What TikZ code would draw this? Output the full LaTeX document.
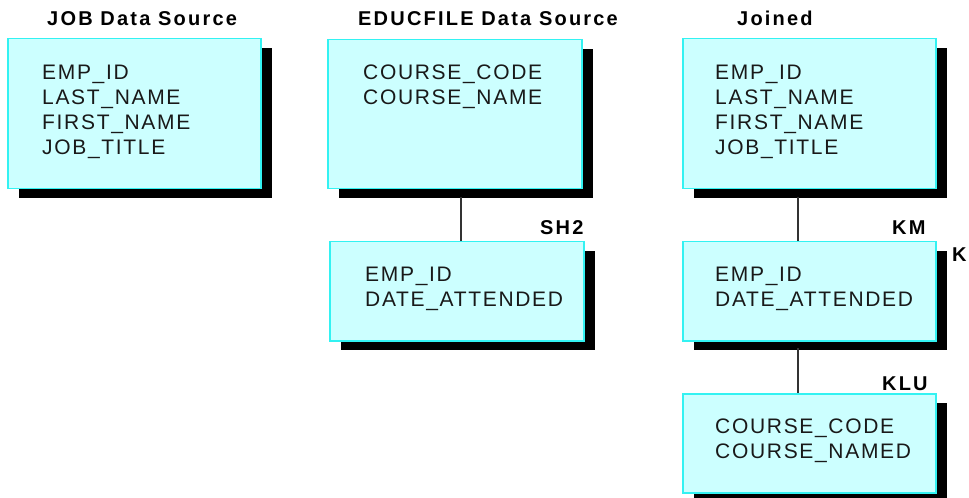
\documentclass[tikz,border=0pt]{standalone}
\usepackage{fontspec}
\setmainfont{Liberation Sans}
\newfontfamily\fieldfont[LetterSpace=8]{Liberation Sans}
\newfontfamily\titlefont[LetterSpace=11]{Liberation Sans}
\usetikzlibrary{shadows}
\definecolor{boxfill}{HTML}{CCFFFF}
\definecolor{boxedge}{HTML}{33F2F2}
\definecolor{linkcol}{HTML}{333333}
\begin{document}
\begin{tikzpicture}[x=1bp,y=-1bp,
  tbl/.style={draw=boxedge, fill=boxfill, line width=1.5bp, rectangle, inner sep=0pt,
    anchor=north west, minimum width=253bp,
    general shadow={fill=black, shadow xshift=11bp, shadow yshift=-9bp}},
  fields/.style={anchor=base west, inner sep=0pt, align=left,
    font=\fieldfont\fontsize{21bp}{25bp}\selectfont, text=black!90},
  title/.style={anchor=base west, inner sep=0pt,
    font=\titlefont\bfseries\fontsize{20bp}{24bp}\selectfont},
  link/.style={draw=linkcol, line width=1.3bp}]
\useasboundingbox (0,0) rectangle (969,498);

% connector start points (below the shadows)
\coordinate (c1) at (461,197);
\coordinate (c2) at (798,197);
\coordinate (c3) at (798,348);

% boxes
\node[tbl, minimum height=150bp] (job) at (7,38) {};
\node[tbl, minimum height=149bp, minimum width=254bp] (educ) at (327,39) {};
\node[tbl, minimum height=150bp] (joined) at (682,38) {};
\node[tbl, minimum height=99bp, minimum width=254bp] (sh2) at (329,241) {};
\node[tbl, minimum height=99bp] (km) at (682,241) {};
\node[tbl, minimum height=99bp] (klu) at (682,393) {};

\draw[link] (c1) -- (c1 |- sh2.north);
\draw[link] (c2) -- (c2 |- km.north);
\draw[link] (c3) -- (c3 |- klu.north);

% titles
\node[title] (tjob) at (47,26) {JOB Data Source};
\node[title] (teduc) at (358,26) {EDUCFILE Data Source};
\node[title] (tjoined) at (737,26) {Joined};
\node[title] (tsh2) at (540,235) {SH2};
\node[title] (tkm) at (892,235) {KM};
\node[title] (tk) at (952,262) {K};
\node[title] (tklu) at (882,390) {KLU};

% field lists (anchored at the baseline of the last line)
\node[fields] (fjob) at (42,155) {EMP\_ID\\LAST\_NAME\\FIRST\_NAME\\JOB\_TITLE};
\node[fields] (feduc) at (363,105) {COURSE\_CODE\\COURSE\_NAME};
\node[fields] (fjoined) at (715,155) {EMP\_ID\\LAST\_NAME\\FIRST\_NAME\\JOB\_TITLE};
\node[fields] (fsh2) at (365,307) {EMP\_ID\\DATE\_ATTENDED};
\node[fields] (fkm) at (715,307) {EMP\_ID\\DATE\_ATTENDED};
\node[fields] (fklu) at (715,458) {COURSE\_CODE\\COURSE\_NAMED};
\end{tikzpicture}
\end{document}
